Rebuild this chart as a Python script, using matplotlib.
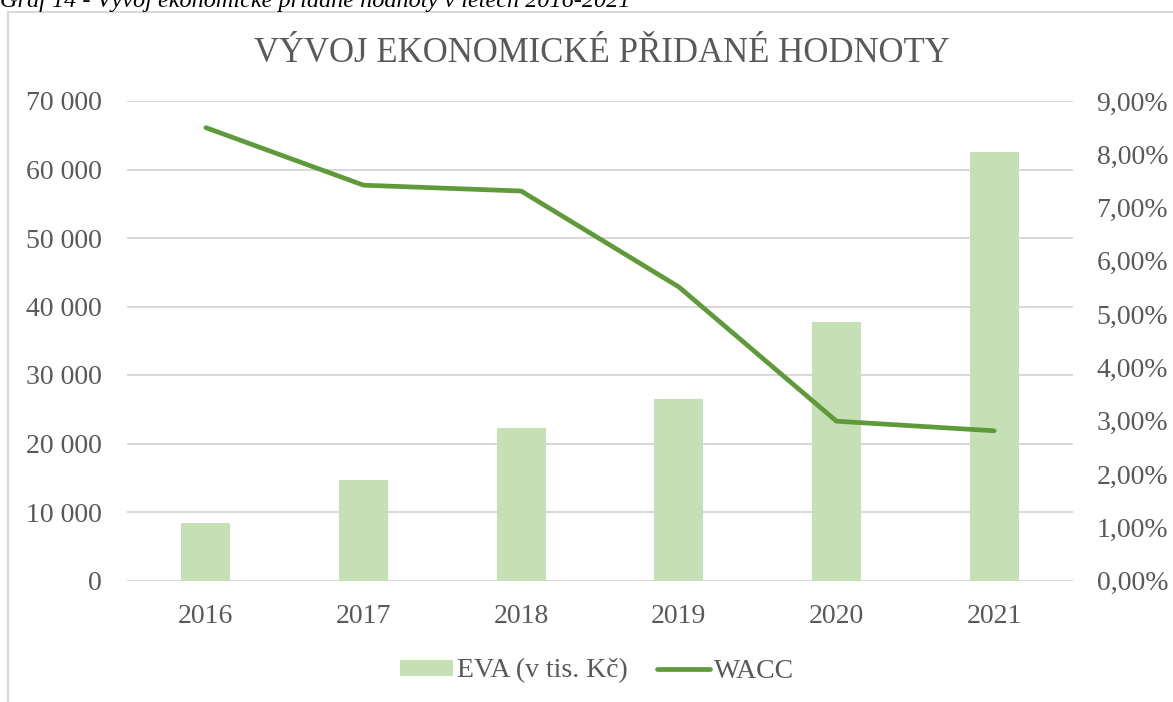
import matplotlib
matplotlib.use("Agg")
import matplotlib.pyplot as plt
from matplotlib.patches import Rectangle
from matplotlib.ticker import FuncFormatter, MultipleLocator
import numpy as np

years = ["2016", "2017", "2018", "2019", "2020", "2021"]
eva = [8400, 14600, 22300, 26500, 37800, 62600]
wacc = [8.50, 7.42, 7.31, 5.51, 2.99, 2.81]

title = "VÝVOJ EKONOMICKÉ PŘIDANÉ HODNOTY"
caption = "Graf 14 - Vývoj ekonomické přidané hodnoty v letech 2016-2021"
eva_label = "EVA (v tis. Kč)"
wacc_label = "WACC"

BAR = "#C5E0B4"
LINE = "#5F9A3A"
TXT = "#595959"
GRID = "#D9D9D9"
FONT = "Liberation Serif"

W, H = 1173, 702
fig = plt.figure(figsize=(W / 100, H / 100), dpi=100)
fig.patch.set_facecolor("white")

# outer chart frame
fig.patches.append(Rectangle((8 / W, -0.1), 1.2, (H - 12) / H + 0.1,
                             transform=fig.transFigure, fill=False,
                             edgecolor=GRID, linewidth=1.5))

# caption, partially cut at top
fig.text(0.0, (H - 7) / H, caption, fontfamily=FONT, fontstyle="italic",
         fontsize=17.5, color="black", ha="left", va="baseline")

ax = fig.add_axes([127 / W, 121.5 / H, 946 / W, 479.5 / H])
x = np.arange(len(years))
ax.bar(x, eva, width=0.31, color=BAR, label=eva_label, zorder=2)
ax.set_xlim(-0.5, len(years) - 0.5)
ax.set_ylim(0, 70000)
ax.yaxis.set_major_locator(MultipleLocator(10000))
ax.yaxis.set_major_formatter(FuncFormatter(lambda v, p: f"{int(v):,}".replace(",", " ")))
ax.set_xticks(x)
ax.set_xticklabels(years)
ax.grid(axis="y", color=GRID, linewidth=1.5, zorder=0)
ax.set_axisbelow(True)
for s in ax.spines.values():
    s.set_visible(False)
ax.tick_params(axis="both", length=0, labelsize=20, labelcolor=TXT)
ax.tick_params(axis="y", pad=18)
ax.tick_params(axis="x", pad=17)
for lab in ax.get_xticklabels() + ax.get_yticklabels():
    lab.set_fontfamily(FONT)

ax2 = ax.twinx()
ax2.plot(x, wacc, color=LINE, linewidth=3.4, solid_capstyle="round",
         label=wacc_label, zorder=3)
ax2.set_ylim(0, 9)
ax2.yaxis.set_major_locator(MultipleLocator(1))
ax2.yaxis.set_major_formatter(FuncFormatter(lambda v, p: f"{v:.2f}".replace(".", ",") + "%"))
for s in ax2.spines.values():
    s.set_visible(False)
ax2.tick_params(axis="y", length=0, labelsize=20, labelcolor=TXT, pad=17)
for lab in ax2.get_yticklabels():
    lab.set_fontfamily(FONT)

fig.text(0.513, (H - 53) / H, title, fontfamily=FONT, fontsize=25,
         color=TXT, ha="center", va="center")

h1, l1 = ax.get_legend_handles_labels()
h2, l2 = ax2.get_legend_handles_labels()
leg = fig.legend(h1 + h2, l1 + l2, loc="center", bbox_to_anchor=(597 / W, (H - 671) / H),
                 ncol=2, frameon=False, prop={"family": FONT, "size": 20},
                 handlelength=1.9, handleheight=0.5, handletextpad=0.15,
                 columnspacing=1.05)
for t in leg.get_texts():
    t.set_color(TXT)

fig.savefig("out.png", dpi=100, facecolor="white")
